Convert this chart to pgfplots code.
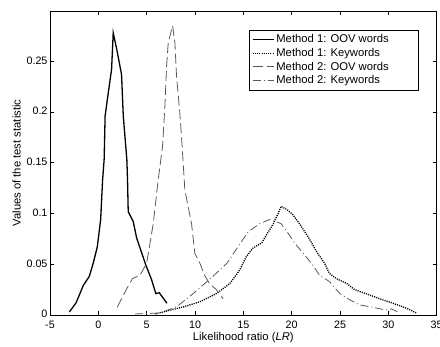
\documentclass[border=0pt]{standalone}
\usepackage{pgfplots}
\pgfplotsset{compat=1.18}
\usepackage{fontspec}
\setmainfont{Liberation Sans}
\definecolor{mgray}{gray}{0.35}
\begin{document}
\begin{tikzpicture}
\path[use as bounding box] (-50bp,-32bp) rectangle (390bp,315bp);
\begin{axis}[
  at={(0,0)}, anchor=south west,
  scale only axis, width=386.7bp, height=304bp,
  xmin=-5, xmax=35, ymin=0, ymax=0.2995,
  xtick={-5,0,...,35}, ytick={0,0.05,...,0.25},
  tick align=inside, major tick length=4bp,
  xtick pos=both, ytick pos=both,
  tick style={black, line width=0.5bp},
  axis line style={line width=0.6bp},
  /pgf/number format/assume math mode=true,
  ticklabel style={font=\fontsize{10.8}{13}\selectfont},
  yticklabel style={/pgf/number format/fixed, xshift=1bp, yshift=0.8bp},
  xticklabel style={yshift=-2.2bp},
  label style={font=\fontsize{11.3}{13}\selectfont},
  xlabel={Likelihood ratio (\textit{LR})},
  ylabel={Values of the test statistic},
  ylabel style={yshift=-1bp},
  xlabel style={yshift=3bp},
  legend style={at={(0.9517,0.9375)}, anchor=north east, font=\fontsize{11.3}{13}\selectfont,
    draw=black, line width=0.5bp, inner xsep=3bp, inner ysep=2.5bp, row sep=0bp},
  legend cell align=left,
  legend image code/.code={\draw[#1] (0bp,0bp) -- (21bp,0bp);},
]
\addplot[black, line width=1.3bp] coordinates {
(-3.0,0.003) (-2.3,0.012) (-1.56,0.029) (-0.94,0.038) (-0.53,0.051) (-0.11,0.067)
(0.24,0.094) (0.44,0.133) (0.6,0.153) (0.7,0.196) (1.03,0.219) (1.37,0.242) (1.54,0.278)
(1.9,0.262) (2.4,0.237) (2.58,0.196) (2.95,0.153) (3.02,0.133) (3.09,0.102) (3.61,0.092)
(3.96,0.076) (4.92,0.049) (5.5,0.035) (5.95,0.021) (6.3,0.022) (7.1,0.0115)
};
\addlegendentry{Method 1: OOV words\hspace*{24bp}}
\addplot[black, line width=1.3bp, dash pattern=on 1.1bp off 1.1bp] coordinates {
(5.9,0.001) (6.7,0.003) (8.8,0.008) (10.5,0.013) (12.2,0.021) (13.6,0.031) (14.6,0.044)
(15.3,0.0575) (16.0,0.066) (16.9,0.071) (17.4,0.079) (18.1,0.090) (18.6,0.100) (18.9,0.107)
(19.5,0.104) (20.1,0.099) (20.8,0.090) (21.7,0.077) (22.6,0.062) (23.4,0.051) (23.9,0.041)
(24.6,0.036) (25.7,0.031) (26.5,0.025) (27.7,0.021) (29.1,0.016) (30.5,0.0115) (31.9,0.0066)
(32.9,0.002)
};
\addlegendentry{Method 1: Keywords}
\addplot[mgray, line width=0.8bp, dash pattern=on 10bp off 4bp] coordinates {
(1.95,0.0076) (3.0,0.027) (3.54,0.036) (4.3,0.039) (5.0,0.051) (5.68,0.090) (6.19,0.133)
(6.64,0.166) (6.88,0.205) (7.06,0.245) (7.23,0.268) (7.68,0.285) (7.92,0.268) (8.09,0.235)
(8.43,0.199) (8.67,0.166) (8.95,0.123) (9.64,0.090) (9.98,0.061) (10.5,0.051) (11.0,0.039)
(11.5,0.031) (12.2,0.025) (12.9,0.016)
};
\addlegendentry{Method 2: OOV words}
\addplot[mgray, line width=0.8bp, dash pattern=on 8bp off 3bp on 1bp off 3bp] coordinates {
(3.8,0.001) (6.37,0.002) (8.09,0.008) (9.8,0.021) (11.5,0.035) (13.3,0.051) (14.5,0.068)
(15.5,0.082) (16.7,0.090) (17.7,0.094) (18.4,0.092) (18.9,0.090) (19.6,0.081) (20.3,0.071)
(21.35,0.059) (22.2,0.049) (22.9,0.039) (23.9,0.033) (25.0,0.021) (26.0,0.015) (27.0,0.010)
(28.4,0.0076) (29.4,0.0056) (30.0,0.005) (30.3,0.006) (31.0,0.003)
};
\addlegendentry{Method 2: Keywords}
\end{axis}
\end{tikzpicture}
\end{document}
